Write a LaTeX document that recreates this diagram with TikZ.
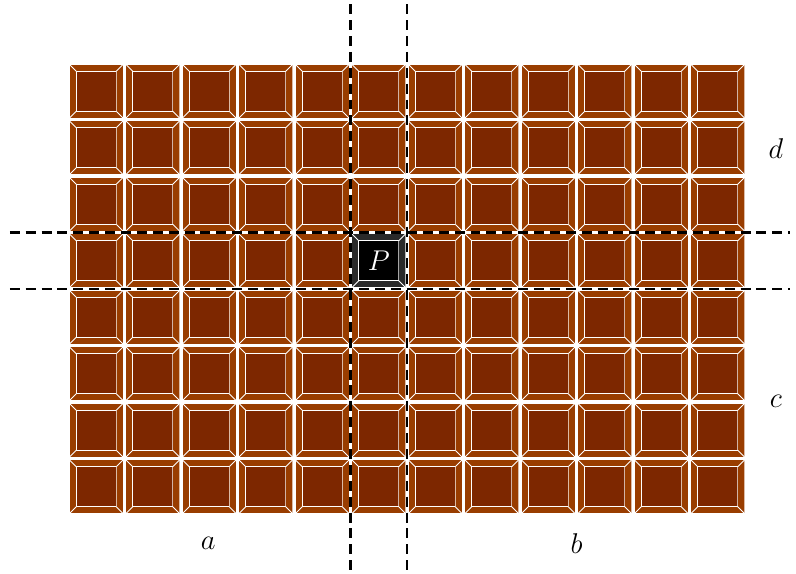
\documentclass[tikz,border=0pt]{standalone}
\definecolor{chocA}{RGB}{153,61,0}
\definecolor{chocB}{RGB}{125,39,0}
\definecolor{darkA}{RGB}{42,42,42}
\definecolor{darkB}{RGB}{0,0,0}
\tikzset{
  bevline/.style={white, line width=0.5pt},
  bevsoft/.style={white, opacity=0.65, line width=0.5pt},
  cutline/.style={black, line width=1.2pt, dash pattern=on 5pt off 3pt},
  lab/.style={font=\fontsize{13.5}{16}\selectfont}
}
\newcommand\chocblock[3]{%
  \begin{scope}[shift={(#1,#2)}]
    \fill[#3A] (0.02,0.02) rectangle (0.98,0.98);
    \fill[#3B] (0.145,0.145) rectangle (0.855,0.855);
    \draw[bevline] (0.98,0.98) -- (0.02,0.98) -- (0.02,0.02) -- (0.98,0.02);
    \draw[bevsoft] (0.98,0.02) -- (0.98,0.98);
    \draw[bevline] (0.855,0.855) -- (0.145,0.855) -- (0.145,0.145) -- (0.855,0.145);
    \draw[bevsoft] (0.855,0.145) -- (0.855,0.855);
    \draw[bevline] (0.02,0.02) -- (0.145,0.145) (0.98,0.02) -- (0.855,0.145)
      (0.98,0.98) -- (0.855,0.855) (0.02,0.98) -- (0.145,0.855);
  \end{scope}}
\begin{document}
\begin{tikzpicture}
\useasboundingbox (-1.204,-1.027) rectangle (12.885,9.115);
\foreach \i in {0,...,11}{
  \foreach \j in {0,...,7}{
    \chocblock{\i}{\j}{choc}
  }
}
\chocblock{5}{4}{dark}
\node[lab, text=white] (P) at (5.5,4.5) {$P$};
% cut lines
\coordinate (h1l) at (-1.03,4); \coordinate (h1r) at (12.78,4);
\coordinate (h2l) at (-1.03,5); \coordinate (h2r) at (12.78,5);
\coordinate (v1b) at (5,-1.03); \coordinate (v1t) at (5,9.04);
\coordinate (v2b) at (6,-1.03); \coordinate (v2t) at (6,9.04);
\draw[cutline] (h1l) -- (h1r);
\draw[cutline] (h2l) -- (h2r);
\draw[cutline] (v1t) -- (v1b);
\draw[cutline] (v2t) -- (v2b);
\node[lab] (a) at (2.48,-0.5) {$a$};
\node[lab] (b) at (9.0,-0.5) {$b$};
\node[lab] (c) at (12.53,2.02) {$c$};
\node[lab] (d) at (12.53,6.48) {$d$};
\end{tikzpicture}
\end{document}
